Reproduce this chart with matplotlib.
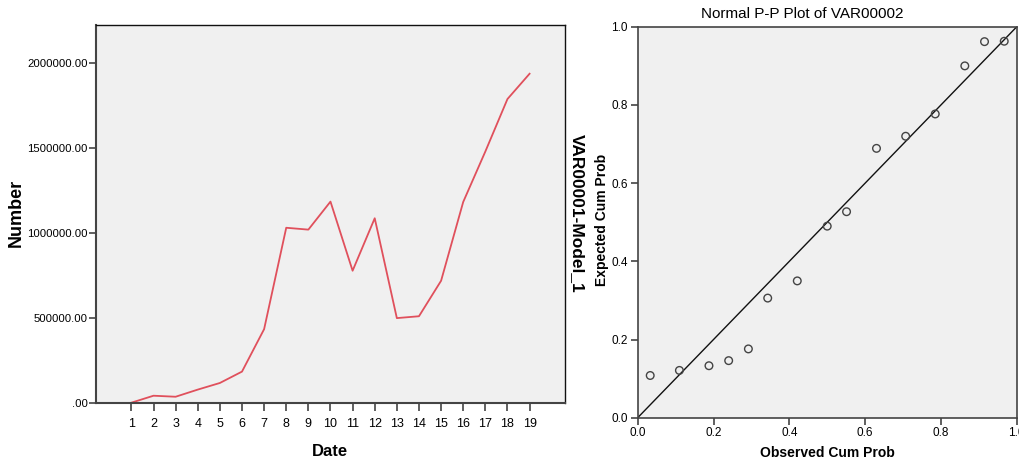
import matplotlib
matplotlib.use("Agg")
import matplotlib.pyplot as plt

# left panel: sequence chart
dates = list(range(1, 20))
numbers = [0, 41000, 35000, 77000, 116000, 183000, 433000, 1030000, 1019000,
           1184000, 777000, 1086000, 498000, 509000, 718000, 1182000, 1479000,
           1788000, 1937000]
y_ticks = [0, 500000, 1000000, 1500000, 2000000]
y_tick_labels = [".00", "500000.00", "1000000.00", "1500000.00", "2000000.00"]

# right panel: normal P-P plot
observed = [0.033, 0.110, 0.188, 0.240, 0.292, 0.343, 0.421, 0.500, 0.551,
            0.630, 0.707, 0.785, 0.863, 0.915, 0.967]
expected = [0.108, 0.121, 0.133, 0.146, 0.176, 0.306, 0.350, 0.490, 0.527,
            0.689, 0.720, 0.777, 0.900, 0.962, 0.963]
pp_ticks = [0.0, 0.2, 0.4, 0.6, 0.8, 1.0]

plt.rcParams['font.family'] = ['Liberation Sans', 'DejaVu Sans']
bg = '#f0f0f0'
spine_col = '#444444'

fig = plt.figure(figsize=(10.2, 4.61), dpi=100)

ax1 = fig.add_axes([0.0941, 0.1265, 0.4598, 0.8193])
ax1.set_facecolor(bg)
ax1.plot(dates, numbers, color='#e0505c', lw=1.3)
ax1.set_xlim(-0.6, 20.6)
ax1.set_ylim(0, 2224000)
ax1.set_xticks(dates)
ax1.set_xticklabels([str(d) for d in dates])
ax1.set_yticks(y_ticks)
ax1.set_yticklabels(y_tick_labels)
ax1.tick_params(axis='y', labelsize=8.2, length=5, width=1.2, color=spine_col, pad=1)
ax1.tick_params(axis='x', labelsize=9, length=6, width=1.2, color=spine_col, pad=5)
for s in ['left', 'bottom']:
    ax1.spines[s].set_color(spine_col)
    ax1.spines[s].set_linewidth(1.5)
for s in ['top', 'right']:
    ax1.spines[s].set_color('#111111')
    ax1.spines[s].set_linewidth(1.0)
fig.text(330 / 1020, 1 - 451 / 461, 'Date', ha='center', va='center',
         fontsize=12, fontweight='bold')
fig.text(16 / 1020, 1 - 213 / 461, 'Number', rotation=90, ha='center', va='center',
         fontsize=13, fontweight='bold')
fig.text(577 / 1020, 1 - 213 / 461, 'VAR00001-Model_1', rotation=270, ha='center',
         va='center', fontsize=12.5, fontweight='bold')

ax2 = fig.add_axes([0.6252, 0.0939, 0.3716, 0.848])
ax2.set_facecolor(bg)
ax2.plot([0, 1], [0, 1], color='#111111', lw=1.0)
ax2.scatter(observed, expected, s=30, facecolors='none', edgecolors='#444444',
            linewidths=1.0, zorder=3)
ax2.set_xlim(0, 1)
ax2.set_ylim(0, 1)
ax2.set_xticks(pp_ticks)
ax2.set_yticks(pp_ticks)
ax2.set_xticklabels(['%.1f' % t for t in pp_ticks])
ax2.set_yticklabels(['%.1f' % t for t in pp_ticks])
ax2.tick_params(labelsize=8.5, length=5, width=1.2, color=spine_col, pad=2)
for s in ax2.spines.values():
    s.set_color(spine_col)
    s.set_linewidth(1.2)
fig.text(827 / 1020, 1 - 453 / 461, 'Observed Cum Prob', ha='center', va='center',
         fontsize=10, fontweight='bold')
fig.text(602 / 1020, 1 - 220 / 461, 'Expected Cum Prob', rotation=90, ha='center',
         va='center', fontsize=10, fontweight='bold')
fig.text(802 / 1020, 1 - 14 / 461, 'Normal P-P Plot of VAR00002', ha='center',
         va='center', fontsize=11)

fig.savefig('out.png', dpi=100)
